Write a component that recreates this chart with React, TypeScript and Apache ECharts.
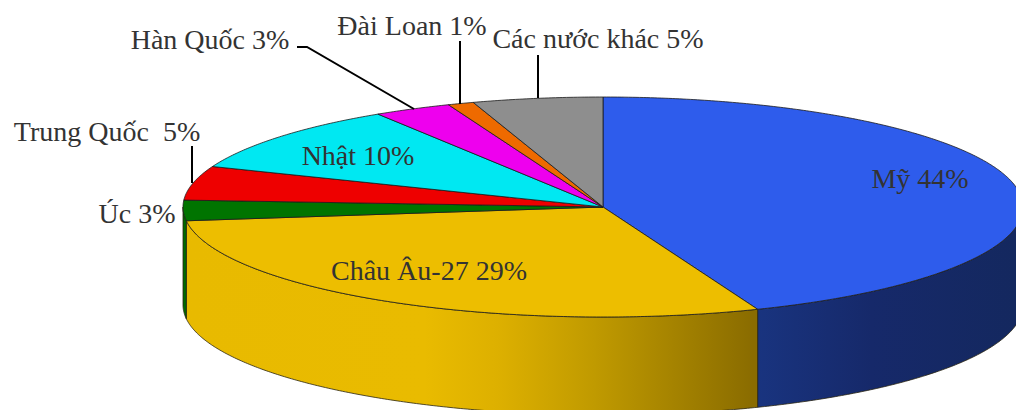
import React, { useEffect, useRef } from "react";
import * as echarts from "echarts";

const categories = ["Mỹ", "Châu Âu-27", "Úc", "Trung Quốc", "Nhật", "Hàn Quốc", "Đài Loan", "Các nước khác"];
const shares = [44, 29, 3, 5, 10, 3, 1, 5];
const labelTexts = ["Mỹ 44%", "Châu Âu-27 29%", "Úc 3%", "Trung Quốc  5%", "Nhật 10%", "Hàn Quốc 3%", "Đài Loan 1%", "Các nước khác 5%"];

const topColors = ["#2E5CEC", "#EDBE00", "#007400", "#EE0000", "#00E8F2", "#EE00EE", "#EE6A00", "#8E8E8E"];
const labelAnchors: [number, number][] = [
  [920, 178], [429, 270], [137, 213], [107, 131], [358, 155], [210, 39], [412, 25], [598, 38],
];

const CX = 603, CY = 207, RX = 420, RY = 110, DEPTH = 98;
const total = shares.reduce((a, b) => a + b, 0);

const point = (deg: number, dy = 0): [number, number] => {
  const t = (deg * Math.PI) / 180;
  return [CX + RX * Math.sin(t), CY - RY * Math.cos(t) + dy];
};
const arc = (a: number, b: number, dy = 0) => {
  const pts: [number, number][] = [];
  const n = Math.max(2, Math.ceil(Math.abs(b - a) * 2));
  for (let i = 0; i <= n; i++) pts.push(point(a + ((b - a) * i) / n, dy));
  return pts;
};
const range = (i: number): [number, number] => {
  const before = shares.slice(0, i).reduce((a, b) => a + b, 0);
  return [(before / total) * 360, ((before + shares[i]) / total) * 360];
};

const sideFill = (i: number) => {
  const G = echarts.graphic.LinearGradient;
  if (i === 0)
    return new G(753, 0, 1016, 0, [
      { offset: 0, color: "#193480" },
      { offset: 0.45, color: "#16296A" },
      { offset: 1, color: "#14285F" },
    ], true);
  if (i === 1)
    return new G(186, 0, 753, 0, [
      { offset: 0, color: "#E8BA00" },
      { offset: 0.42, color: "#E9BB00" },
      { offset: 0.55, color: "#DDB000" },
      { offset: 0.72, color: "#C09A00" },
      { offset: 1, color: "#8A6C00" },
    ], true);
  return "#006A00";
};

const renderSide = (params: any) => {
  const i = params.dataIndex;
  const [a0, b0] = range(i);
  const a = Math.max(a0, 90), b = Math.min(b0, 270);
  if (b <= a) return { type: "group", children: [] };
  return {
    type: "polygon",
    shape: { points: [...arc(a, b), ...arc(b, a, DEPTH)] },
    style: { fill: sideFill(i), stroke: "#2A2410", lineWidth: 0.8 },
  };
};

const renderTop = (params: any) => {
  const i = params.dataIndex;
  const [a, b] = range(i);
  return {
    type: "polygon",
    shape: { points: [[CX, CY], ...arc(a, b)] },
    style: { fill: topColors[i], stroke: "#1C1C1C", lineWidth: 0.8, lineJoin: "round" },
  };
};

const leaderStyle = { stroke: "#000", lineWidth: 2, fill: "none" };

export default function App() {
  const ref = useRef<HTMLDivElement>(null);
  useEffect(() => {
    const chart = echarts.init(ref.current!, undefined, { renderer: "svg" });
    const data = categories.map((name, i) => ({ name, value: shares[i] }));
    chart.setOption({
      animation: false,
      backgroundColor: "#fff",
      series: [
        { type: "custom", coordinateSystem: "none", data, renderItem: renderSide, z: 1, silent: true },
        { type: "custom", coordinateSystem: "none", data, renderItem: renderTop, z: 2, silent: true },
      ],
      graphic: [
        { type: "polyline", z: 5, shape: { points: [[297, 47], [307, 47], [414, 109]] }, style: leaderStyle },
        { type: "line", z: 5, shape: { x1: 192, y1: 146, x2: 192, y2: 183 }, style: leaderStyle },
        { type: "line", z: 5, shape: { x1: 460, y1: 41, x2: 460, y2: 104 }, style: leaderStyle },
        { type: "line", z: 5, shape: { x1: 538, y1: 55, x2: 538, y2: 98 }, style: leaderStyle },
        ...labelTexts.map((text, i) => ({
          type: "text",
          z: 6,
          x: labelAnchors[i][0],
          y: labelAnchors[i][1],
          style: {
            text,
            fill: "#333333",
            font: '28px "Liberation Serif"',
            textAlign: "center",
            textVerticalAlign: "middle",
          },
        })),
      ],
    });
    return () => chart.dispose();
  }, []);
  return <div ref={ref} style={{ position: "absolute", left: 0, top: 0, width: 1016, height: 410, overflow: "hidden" }} />;
}
